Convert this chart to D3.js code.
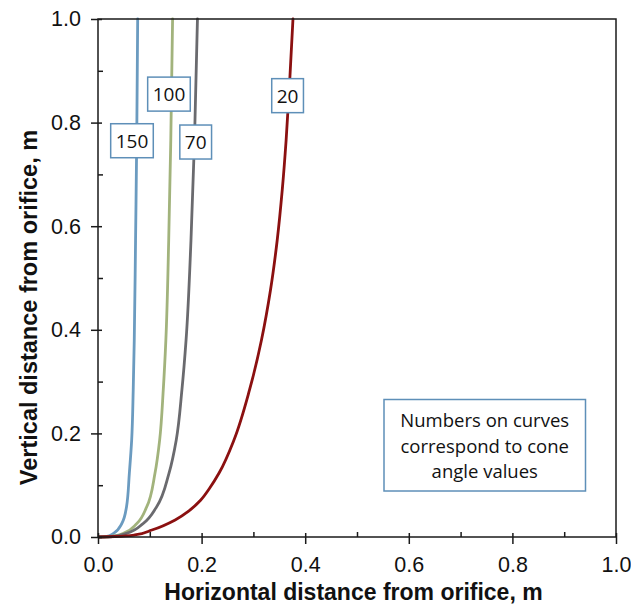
<!DOCTYPE html>
<html>
<head>
<meta charset="utf-8">
<script src="https://cdn.jsdelivr.net/npm/d3@7"></script>
<style>
  html, body { margin: 0; padding: 0; background: #fff; }
  svg { display: block; }
</style>
</head>
<body>
<svg id="chart" width="631" height="606"></svg>
<script>
// ---- Data ----
const xTicks = [0.0, 0.2, 0.4, 0.6, 0.8, 1.0];
const yTicks = [0.0, 0.2, 0.4, 0.6, 0.8, 1.0];
const minorTicks = [0.1, 0.3, 0.5, 0.7, 0.9];

const seriesNames = ["150", "100", "70", "20"];

// [x, y] points: horizontal distance, vertical distance (m)
const curve150 = [[0, 0], [0.015, 0.0005], [0.03, 0.007], [0.046, 0.026], [0.055, 0.058], [0.0605, 0.123], [0.065, 0.187], [0.068, 0.284], [0.070, 0.38], [0.0725, 0.573], [0.0748, 0.77], [0.0766, 1.0]];
const curve100 = [[0, 0], [0.02, 0.0005], [0.049, 0.007], [0.075, 0.026], [0.094, 0.058], [0.110, 0.123], [0.119, 0.187], [0.126, 0.284], [0.131, 0.38], [0.1365, 0.573], [0.1405, 0.766], [0.144, 1.0]];
const curve70 = [[0, 0], [0.025, 0.0005], [0.055, 0.007], [0.087, 0.026], [0.113, 0.058], [0.137, 0.123], [0.151, 0.187], [0.162, 0.284], [0.170, 0.38], [0.1795, 0.573], [0.1863, 0.766], [0.192, 1.0]];
const curve20 = [[0, 0], [0.033, 0.001], [0.071, 0.004], [0.104, 0.0135], [0.149, 0.033], [0.175, 0.050], [0.198, 0.071], [0.216, 0.095], [0.234, 0.124], [0.2625, 0.1873], [0.2925, 0.2838], [0.3156, 0.3803], [0.3330, 0.4768], [0.3460, 0.5734], [0.3557, 0.6699], [0.3632, 0.7664], [0.3702, 0.8822], [0.3764, 1.0]];

const curveColors = ["#6b9bc0", "#a2b37c", "#6a6a6e", "#8b1010"];

// label anchor positions in data units
const labelX = [0.0656, 0.137, 0.1886, 0.366];
const labelY = [0.765, 0.855, 0.7625, 0.852];

const noteLines = ["Numbers on curves", "correspond to cone", "angle values"];
const xTitle = "Horizontal distance from orifice, m";
const yTitle = "Vertical distance from orifice, m";

// ---- Layout ----
const svg = d3.select("#chart");
const L = 98, R = 616, T = 19, B = 537;

const x = d3.scaleLinear().domain([0, 1]).range([L, R]);
const y = d3.scaleLinear().domain([0, 1]).range([B, T]);

const axisColor = "#1a1a1a";
const tickFont = "'Liberation Sans', Arial, sans-serif";
const labelFont = "'Open Sans', sans-serif";

// clip
svg.append("defs").append("clipPath").attr("id", "plotclip")
  .append("rect").attr("x", L).attr("y", T - 2).attr("width", R - L).attr("height", B - T + 4);

// curves
const curves = [curve150, curve100, curve70, curve20];
const line = d3.line()
  .x(d => x(d[0]))
  .y(d => y(d[1]))
  .curve(d3.curveMonotoneY);

const g = svg.append("g").attr("clip-path", "url(#plotclip)");
curves.forEach((c, i) => {
  g.append("path")
    .attr("d", line(c))
    .attr("fill", "none")
    .attr("stroke", curveColors[i])
    .attr("stroke-width", 2.8)
    .attr("stroke-linecap", "round");
});

// frame
svg.append("rect")
  .attr("x", L).attr("y", T).attr("width", R - L).attr("height", B - T)
  .attr("fill", "none").attr("stroke", axisColor).attr("stroke-width", 1.5);

// bottom axis
const xAxis = d3.axisBottom(x).tickValues(xTicks).tickFormat(d3.format(".1f"))
  .tickSizeInner(7).tickSizeOuter(0).tickPadding(13);
const gx = svg.append("g").attr("transform", `translate(0,${B})`).call(xAxis);
gx.select(".domain").remove();
gx.selectAll(".tick line").attr("stroke", axisColor).attr("stroke-width", 1.5).attr("y1", -4);
gx.selectAll(".tick text").attr("font-family", tickFont).attr("font-size", 21.5).attr("fill", "#111");

const xMinor = d3.axisBottom(x).tickValues(minorTicks).tickSize(0).tickFormat("");
const gxm = svg.append("g").attr("transform", `translate(0,${B})`).call(xMinor);
gxm.select(".domain").remove();
gxm.selectAll(".tick line").attr("stroke", axisColor).attr("stroke-width", 1.5).attr("y1", -5).attr("y2", 0);

// left axis
const yAxis = d3.axisLeft(y).tickValues(yTicks).tickFormat(d3.format(".1f"))
  .tickSizeInner(7).tickSizeOuter(0).tickPadding(10);
const gy = svg.append("g").attr("transform", `translate(${L},0)`).call(yAxis);
gy.select(".domain").remove();
gy.selectAll(".tick line").attr("stroke", axisColor).attr("stroke-width", 1.5).attr("x1", 4);
gy.selectAll(".tick text").attr("font-family", tickFont).attr("font-size", 21.5).attr("fill", "#111");

const yMinor = d3.axisLeft(y).tickValues(minorTicks).tickSize(0).tickFormat("");
const gym = svg.append("g").attr("transform", `translate(${L},0)`).call(yMinor);
gym.select(".domain").remove();
gym.selectAll(".tick line").attr("stroke", axisColor).attr("stroke-width", 1.5).attr("x1", 5).attr("x2", 0);

// curve labels
const boxColor = "#5e8fb8";
seriesNames.forEach((name, i) => {
  const cx = x(labelX[i]), cy = y(labelY[i]);
  const lg = svg.append("g");
  const rect = lg.append("rect");
  const t = lg.append("text")
    .attr("x", cx).attr("y", cy)
    .attr("text-anchor", "middle").attr("dominant-baseline", "central")
    .attr("font-family", labelFont).attr("font-size", 19).attr("fill", "#111")
    .text(name);
  const w = t.node().getComputedTextLength() + 10;
  const h = 34;
  rect.attr("x", cx - w / 2).attr("y", cy - h / 2).attr("width", w).attr("height", h)
    .attr("fill", "#fff").attr("stroke", boxColor).attr("stroke-width", 1.5);
});

// note box
const noteX = 384, noteY = 399.5, noteW = 201.5, noteH = 91.5;
svg.append("rect").attr("x", noteX).attr("y", noteY).attr("width", noteW).attr("height", noteH)
  .attr("fill", "#fff").attr("stroke", boxColor).attr("stroke-width", 1.5);
noteLines.forEach((s, i) => {
  svg.append("text")
    .attr("x", noteX + noteW / 2).attr("y", 419.5 + i * 25.7)
    .attr("text-anchor", "middle").attr("dominant-baseline", "central")
    .attr("font-family", labelFont).attr("font-size", 18.5).attr("fill", "#111")
    .text(s);
});

// axis titles
svg.append("text")
  .attr("x", 353.5).attr("y", 600)
  .attr("text-anchor", "middle")
  .attr("font-family", tickFont).attr("font-weight", "bold").attr("font-size", 23).attr("fill", "#111")
  .text(xTitle);

svg.append("text")
  .attr("transform", `translate(37,307.5) rotate(-90)`)
  .attr("text-anchor", "middle")
  .attr("font-family", tickFont).attr("font-weight", "bold").attr("font-size", 23.5).attr("fill", "#111")
  .text(yTitle);
</script>
</body>
</html>
